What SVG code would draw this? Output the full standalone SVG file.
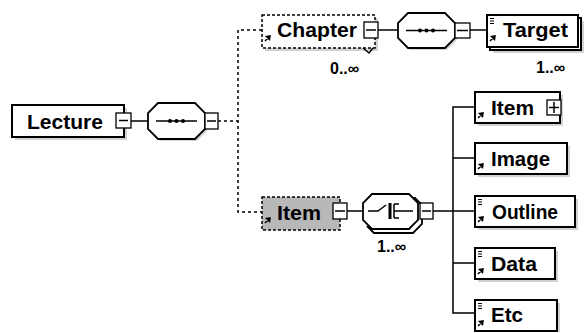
<svg xmlns="http://www.w3.org/2000/svg" width="588" height="333" viewBox="0 0 588 333">
<defs>
<style>
.box{fill:#fff;stroke:#000;stroke-width:2}
.dbox{fill:#fff;stroke:#000;stroke-width:1.5;stroke-dasharray:3 2}
.gbox{fill:#b8b8b8;stroke:#000;stroke-width:1.5;stroke-dasharray:3 2}
.sh{fill:#d2d2d2}
.lbl{font-family:"Liberation Sans",Arial,sans-serif;font-weight:bold;font-size:21px;fill:#000}
.occ{font-family:"Liberation Sans","DejaVu Sans",sans-serif;font-weight:bold;font-size:16px;fill:#000}
.sm{fill:#fff;stroke:#000;stroke-width:1.3}
.ln{stroke:#000;stroke-width:1.5;fill:none}
.dash{stroke:#000;stroke-width:1.5;fill:none;stroke-dasharray:3 3}
.oct{fill:#fff;stroke:#000;stroke-width:1.8}
</style>
<g id="arrow"><path d="M0,6 L4,2 M1.5,1.5 L5,1 L4.5,4.5 Z" stroke="#000" stroke-width="1.5" fill="#000"/></g>
<g id="attr"><path d="M0,0.5 H4 M0,3 H4 M0,5.5 H4" stroke="#000" stroke-width="1.2"/></g>
</defs>

<g id="connectors">
<line class="ln" x1="131" y1="121" x2="148" y2="121"/>
<line class="dash" x1="218" y1="121" x2="238" y2="121" stroke-dasharray="1.5 3"/>
<path class="dash" d="M262,30 H238 V212 H262"/>
<line class="ln" x1="378" y1="30" x2="398" y2="30"/>
<line class="ln" x1="470" y1="30" x2="487" y2="30"/>
<line class="ln" x1="347" y1="211" x2="363" y2="211"/>
<line class="ln" x1="433" y1="211" x2="475" y2="211"/>
<path class="ln" d="M475,107 H453 V313 H475 M453,158 H475 M453,263 H475"/>
</g>

<g id="lecture">
<rect class="sh" x="15" y="108" width="112" height="32"/>
<rect class="box" x="12" y="105" width="112" height="32"/>
<text class="lbl" x="27" y="129" textLength="76" lengthAdjust="spacingAndGlyphs">Lecture</text>
<rect class="sm" x="116" y="113" width="15" height="15"/>
<line class="ln" x1="119" y1="120.5" x2="128" y2="120.5"/>
</g>

<g id="seq1">
<path class="sh" d="M160,105 H197 L207,115 V131 L197,141 H160 L150,131 V115 Z"/>
<path class="oct" d="M158,103 H195 L205,113 V129 L195,139 H158 L148,129 V113 Z"/>
<line class="ln" x1="156" y1="121" x2="197" y2="121"/>
<circle cx="170" cy="121" r="2"/><circle cx="176.5" cy="121" r="2"/><circle cx="183" cy="121" r="2"/>
<rect class="sm" x="205" y="113" width="13" height="16"/>
<line class="ln" x1="207" y1="121" x2="216" y2="121"/>
</g>

<g id="chapter">
<rect class="sh" x="265" y="18" width="113" height="33"/>
<rect class="dbox" x="262" y="15" width="113" height="33"/>
<text class="lbl" x="277" y="37" textLength="80" lengthAdjust="spacingAndGlyphs">Chapter</text>
<use href="#arrow" x="265" y="35"/>
<rect class="sm" x="364" y="22" width="14" height="16"/>
<line class="ln" x1="366" y1="30" x2="376" y2="30"/>
<path class="ln" d="M363,48 L369,53 L373,48"/>
<text class="occ" x="330" y="74">0..∞</text>
</g>

<g id="seq2">
<path class="sh" d="M410,15 H447 L457,25 V40 L447,50 H410 L400,40 V25 Z"/>
<path class="oct" d="M408,13 H445 L455,23 V38 L445,48 H408 L398,38 V23 Z"/>
<line class="ln" x1="406" y1="30.5" x2="447" y2="30.5"/>
<circle cx="420" cy="30.5" r="2"/><circle cx="426.5" cy="30.5" r="2"/><circle cx="433" cy="30.5" r="2"/>
<rect class="sm" x="455" y="23" width="15" height="15"/>
<line class="ln" x1="457" y1="30.5" x2="468" y2="30.5"/>
</g>

<g id="target">
<rect class="sh" x="493" y="21" width="91" height="32"/>
<rect class="box" x="490" y="18" width="91" height="32"/>
<rect class="box" x="487" y="15" width="91" height="32"/>
<text class="lbl" x="503" y="37" textLength="65" lengthAdjust="spacingAndGlyphs">Target</text>
<use href="#attr" x="490" y="18"/>
<use href="#arrow" x="490" y="35"/>
<text class="occ" x="536" y="73">1..∞</text>
</g>

<g id="item">
<rect class="gbox" x="262" y="197" width="78" height="33"/>
<text class="lbl" x="277" y="220" textLength="44" lengthAdjust="spacingAndGlyphs">Item</text>
<use href="#arrow" x="265" y="217"/>
<rect class="sm" x="333" y="203" width="14" height="16"/>
<line class="ln" x1="335" y1="211" x2="345" y2="211"/>
</g>

<g id="choice">
<path class="sh" d="M374,196 H411 L420,205 V222 L411,231 H374 L365,222 V205 Z"/>
<path class="oct" d="M372,198 H415 L422,205 V224 L413,233 H374 L367,226" />
<path class="oct" d="M372,194 H409 L418,203 V220 L409,229 H372 L363,220 V203 Z"/>
<path class="ln" d="M368,211 H378 L386,205"/>
<line x1="390" y1="203" x2="390" y2="219" stroke="#000" stroke-width="3"/>
<path class="ln" d="M394,204 V218 M394,204 H399 M394,211 H413 M394,218 H399"/>
<rect class="sm" x="420" y="203" width="13" height="16"/>
<line class="ln" x1="422" y1="211" x2="431" y2="211"/>
<text class="occ" x="377" y="252">1..∞</text>
</g>

<g id="child-item">
<rect class="sh" x="478" y="95" width="85" height="31"/>
<rect class="box" x="475" y="92" width="85" height="31"/>
<text class="lbl" x="491" y="115" textLength="43" lengthAdjust="spacingAndGlyphs">Item</text>
<use href="#arrow" x="478" y="112"/>
<rect class="sm" x="547" y="100" width="14" height="15"/>
<path class="ln" d="M549,107.5 H559 M554,102 V113"/>
</g>

<g id="child-image">
<rect class="sh" x="478" y="146" width="92" height="31"/>
<rect class="box" x="475" y="143" width="92" height="31"/>
<text class="lbl" x="491" y="166" textLength="59" lengthAdjust="spacingAndGlyphs">Image</text>
<use href="#arrow" x="478" y="163"/>
</g>

<g id="child-outline">
<rect class="sh" x="478" y="199" width="100" height="31"/>
<rect class="box" x="475" y="196" width="100" height="31"/>
<text class="lbl" x="492" y="219" textLength="66" lengthAdjust="spacingAndGlyphs">Outline</text>
<use href="#attr" x="478" y="199"/>
<use href="#arrow" x="478" y="216"/>
</g>

<g id="child-data">
<rect class="sh" x="478" y="251" width="80" height="31"/>
<rect class="box" x="475" y="248" width="80" height="31"/>
<text class="lbl" x="491" y="271" textLength="46" lengthAdjust="spacingAndGlyphs">Data</text>
<use href="#attr" x="478" y="251"/>
<use href="#arrow" x="478" y="268"/>
</g>

<g id="child-etc">
<rect class="sh" x="478" y="303" width="82" height="29"/>
<rect class="box" x="475" y="300" width="82" height="31"/>
<text class="lbl" x="491" y="322" textLength="32" lengthAdjust="spacingAndGlyphs">Etc</text>
<use href="#attr" x="478" y="303"/>
<use href="#arrow" x="478" y="320"/>
</g>
</svg>
